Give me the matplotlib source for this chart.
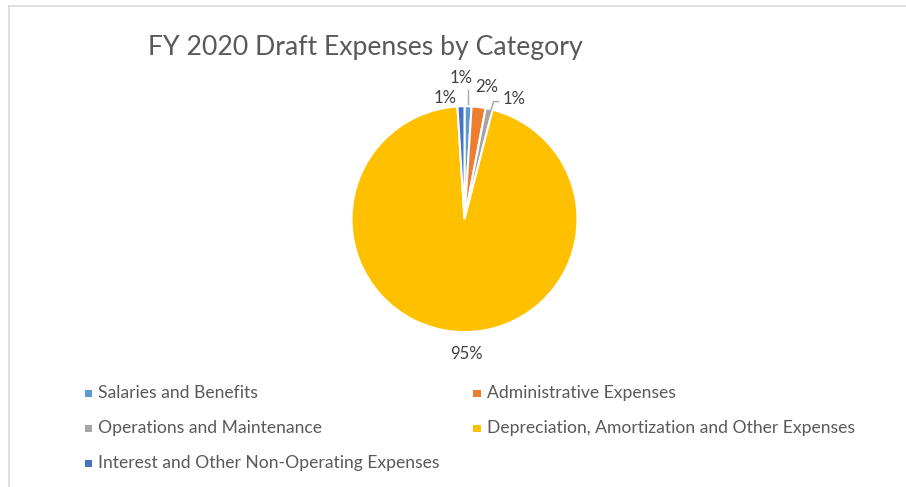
import numpy as np
import matplotlib.pyplot as plt
from matplotlib.lines import Line2D
from matplotlib.patches import Rectangle

# expense categories and their share of the total (%)
categories = ['Salaries and Benefits', 'Administrative Expenses',
              'Operations and Maintenance',
              'Depreciation, Amortization and Other Expenses',
              'Interest and Other Non-Operating Expenses']
shares = [1, 2, 1, 95, 1]

# Office default palette
colors = ['#5B9BD5', '#ED7D31', '#A5A5A5', '#FFC000', '#4472C4']

plt.rcParams['font.family'] = ['Lato', 'DejaVu Sans']

W, H = 906, 487
fig = plt.figure(figsize=(W / 100, H / 100), dpi=100)

# chart area border (left and top edges)
fig.add_artist(Line2D([9 / W, 9 / W], [0, 1 - 6 / H], color='#D9D9D9', lw=1.2))
fig.add_artist(Line2D([9 / W, 1], [1 - 6 / H, 1 - 6 / H], color='#D9D9D9', lw=1.2))

fig.text(148 / W, 1 - 47 / H, 'FY 2020 Draft Expenses by Category',
         fontsize=19.2, color='#595959', va='center', ha='left')

ax = fig.add_axes([0.388, 0.318, 0.2494, 0.464])
wedges, _ = ax.pie(shares, colors=colors, startangle=90, counterclock=False,
                   wedgeprops=dict(edgecolor='white', linewidth=1.5))
ax.set_xlim(-1, 1)
ax.set_ylim(-1, 1)
ax.set_aspect('equal')

# label placement per slice: (x, y) in pie units, leader style
label_pos = [(-0.03, 1.25), (0.2, 1.17), (0.44, 1.06), (0.02, -1.19), (-0.17, 1.07)]
leader = ['vertical', None, 'elbow', None, None]

for w, val, (lx, ly), ld in zip(wedges, shares, label_pos, leader):
    mid = np.deg2rad((w.theta1 + w.theta2) / 2)
    ex, ey = np.cos(mid), np.sin(mid)
    ax.text(lx, ly, f'{val}%', ha='center', va='center', fontsize=12,
            color='#404040', clip_on=False)
    if ld == 'vertical':
        ax.plot([ex, ex], [ey + 0.02, ly - 0.11], color='#A6A6A6', lw=1, clip_on=False)
    elif ld == 'elbow':
        ax.plot([ex, ex + 0.04, lx - 0.14], [ey - 0.06, ly - 0.02, ly - 0.02],
                color='#A6A6A6', lw=1, clip_on=False)

# legend, filled row by row in two columns
col_x = [88, 477]
row_y = [393, 428, 463]
for i, (cat, c) in enumerate(zip(categories, colors)):
    x, y = col_x[i % 2], row_y[i // 2]
    fig.add_artist(Rectangle(((x - 3.5) / W, 1 - (y + 3.5) / H), 7 / W, 7 / H,
                             facecolor=c, edgecolor='none'))
    fig.text((x + 10) / W, 1 - y / H, cat, fontsize=12.6, color='#595959',
             va='center', ha='left')

fig.savefig('out.png', dpi=100)
